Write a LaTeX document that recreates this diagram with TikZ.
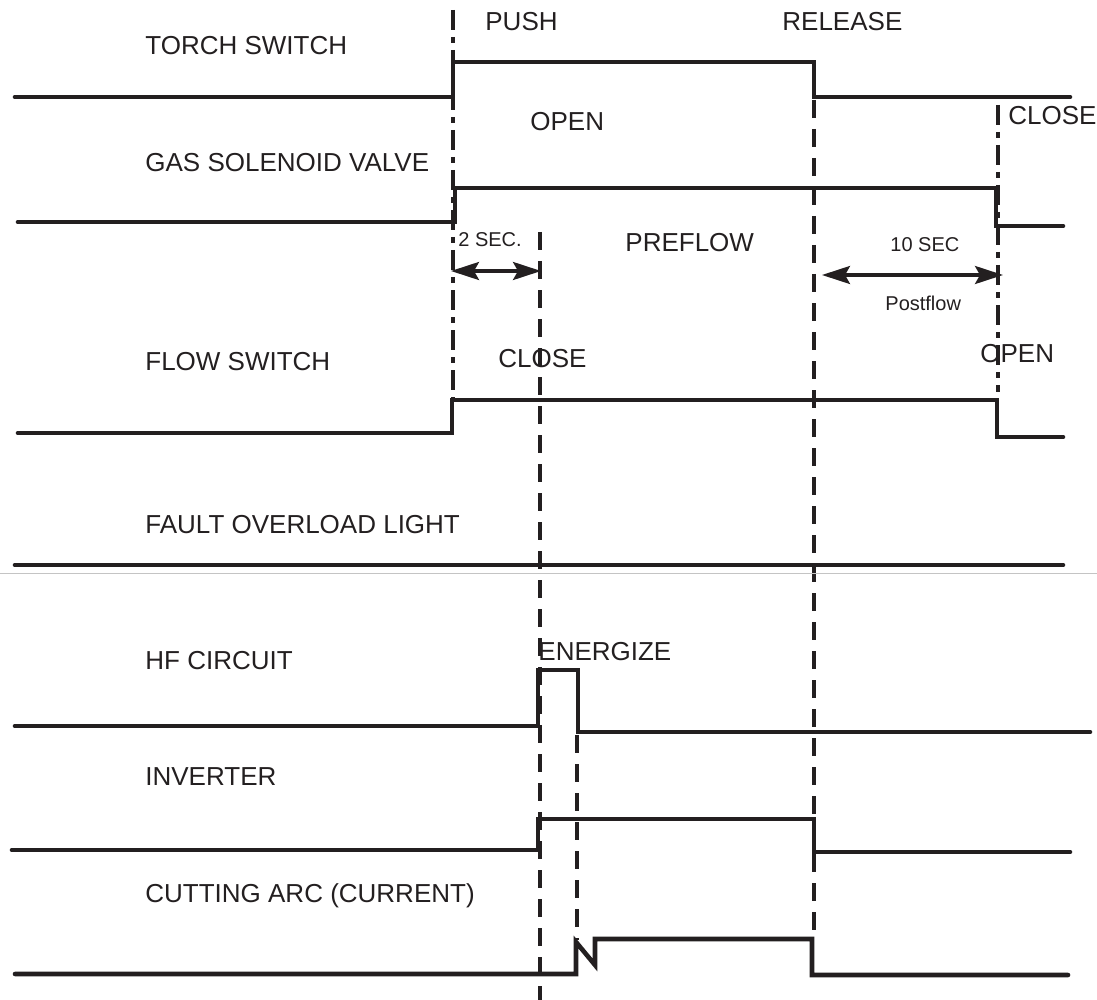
\documentclass[tikz,border=0pt]{standalone}
\usepackage{fontspec}
\setmainfont{Liberation Sans}
\usepackage{tikz}
\usetikzlibrary{arrows.meta}
\definecolor{tdInk}{HTML}{231F20}
\definecolor{tdHair}{HTML}{C4C4C4}
\tikzset{
  tdname/.style={font=\fontsize{13}{15}\selectfont, text=tdInk,
    anchor=base west, inner sep=0pt},
  tdnote/.style={font=\fontsize{10}{12}\selectfont, text=tdInk,
    anchor=base west, inner sep=0pt},
  tdtrace/.style={draw=tdInk, line width=2.3pt, line cap=round,
    line join=miter},
  tdtime/.style={draw=tdInk, line width=2pt,
    dash pattern=on 9pt off 5.5pt},
  tdtimedot/.style={draw=tdInk, line width=2pt,
    dash pattern=on 10pt off 3.5pt on 3pt off 3.5pt},
  tdspan/.style={{Stealth[length=14pt,width=9pt,inset=2.5pt]}-%
    {Stealth[length=14pt,width=9pt,inset=2.5pt]},
    draw=tdInk, line width=1.6pt},
}
\newcommand{\tdrow}[3]{%
  \node[tdname] (#1) at (145,#2) {#3};%
}

\begin{document}
\begin{tikzpicture}[x=0.5pt,y=-0.5pt]
  \path[use as bounding box] (0,0) rectangle (1097,1000);

  % signal names
  \tdrow{torch}{55}{TORCH SWITCH}
  \tdrow{gas}{172}{GAS SOLENOID VALVE}
  \tdrow{flow}{370}{FLOW SWITCH}
  \tdrow{fault}{533}{FAULT OVERLOAD LIGHT}
  \tdrow{hf}{669}{HF CIRCUIT}
  \tdrow{inverter}{785}{INVERTER}
  \tdrow{arc}{902}{CUTTING ARC (CURRENT)}

  % time marks
  \draw[tdtimedot] (453,10) -- (453,400);
  \draw[tdtime] (540,232) -- (540,1000);
  \draw[tdtime] (577,735) -- (577,940);
  \draw[tdtime] (814,100) -- (814,939);
  \draw[tdtimedot] (998,105) -- (998,392);

  % event labels
  \node[tdname] (push) at (485,31) {PUSH};
  \node[tdname] (release) at (782,31) {RELEASE};
  \node[tdname] (gasopen) at (530,131) {OPEN};
  \node[tdname] (gasclose) at (1008,125) {CLOSE};
  \node[tdname] (preflow) at (625,252) {PREFLOW};
  \node[tdname] (flowclose) at (498,367) {CLOSE};
  \node[tdname] (flowopen) at (980,362) {OPEN};
  \node[tdname] (energize) at (538,660) {ENERGIZE};
  \node[tdnote] (twosec) at (458,247) {2 SEC.};
  \node[tdnote] (tensec) at (890,252) {10 SEC};
  \node[tdnote] (postflow) at (885,310) {Postflow};

  % traces
  \draw[tdtrace] (15,97) -- (453,97) -- (453,62) -- (814,62) -- (814,97)
    -- (1070,97);
  \draw[tdtrace] (18,222) -- (455,222) -- (455,188) -- (996,188)
    -- (996,226) -- (1063,226);
  \draw[tdtrace] (18,433) -- (452,433) -- (452,400) -- (997,400)
    -- (997,437) -- (1063,437);
  \draw[tdtrace] (15,565) -- (1063,565);
  \draw[tdHair,line width=0.5pt] (0,573) -- (1097,573);
  \draw[tdtrace] (15,726) -- (538,726) -- (538,670) -- (578,670)
    -- (578,732) -- (1090,732);
  \draw[tdtrace] (12,850) -- (538,850) -- (538,819) -- (814,819)
    -- (814,852) -- (1070,852);
  \draw[tdtrace] (15,974) -- (576,974) -- (576,942) -- (595,965)
    -- (595,939) -- (812,939) -- (812,975) -- (1068,975);

  % durations
  \coordinate (preA) at (451,271);
  \coordinate (preB) at (541,271);
  \coordinate (postA) at (822,275);
  \coordinate (postB) at (1003,275);
  \draw[tdspan] (preA) -- (preB);
  \draw[tdspan] (postA) -- (postB);
\end{tikzpicture}
\end{document}
